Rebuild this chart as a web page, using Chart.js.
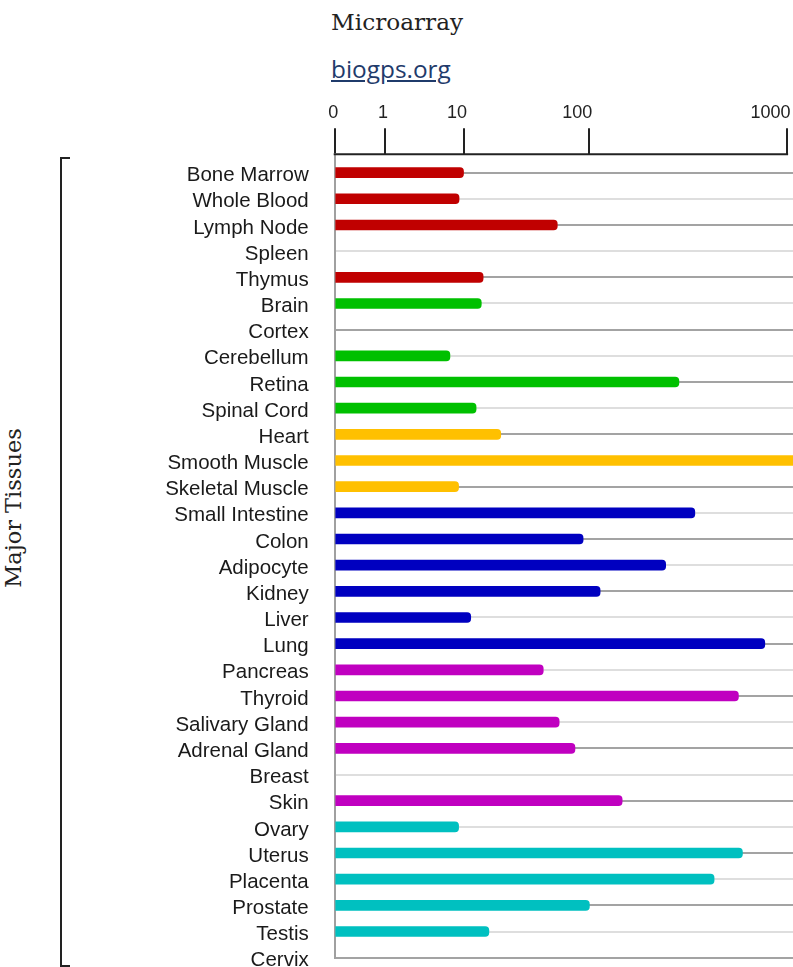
<!DOCTYPE html>
<html>
<head>
<meta charset="utf-8">
<title>Microarray</title>
<script src="https://cdn.jsdelivr.net/npm/chart.js@4.4.1/dist/chart.umd.min.js"></script>
<style>
  html, body { margin: 0; padding: 0; background: #fff; overflow: hidden; }
  #page { position: relative; width: 793px; height: 967px; }
  #title {
    position: absolute; left: 331px; top: 10px;
    font: 23.2px/24px "DejaVu Serif", serif; color: #222;
  }
  #source {
    position: absolute; left: 331px; top: 57px;
    font: 24.4px/24px "Open Sans", sans-serif; color: #1f3b6b;
    text-decoration: underline;
  }
  #sideLabel {
    position: absolute; left: -137px; top: 496px; width: 300px; height: 24px;
    font: 22.5px/24px "DejaVu Serif", serif; color: #222; text-align: center;
    transform: rotate(-90deg); white-space: nowrap;
  }
  #bracket {
    position: absolute; left: 60px; top: 157px; width: 8px; height: 806px;
    border: 2px solid #222; border-right: none;
  }
  #chart { position: absolute; left: 0; top: 0; }
</style>
</head>
<body>
<div id="page">
  <div id="title">Microarray</div>
  <div id="source">biogps.org</div>
  <div id="sideLabel">Major Tissues</div>
  <div id="bracket"></div>
  <canvas id="chart" width="793" height="967"></canvas>
</div>
<script>
  const tissues = [
    "Bone Marrow", "Whole Blood", "Lymph Node", "Spleen", "Thymus",
    "Brain", "Cortex", "Cerebellum", "Retina", "Spinal Cord",
    "Heart", "Smooth Muscle", "Skeletal Muscle",
    "Small Intestine", "Colon", "Adipocyte", "Kidney", "Liver", "Lung",
    "Pancreas", "Thyroid", "Salivary Gland", "Adrenal Gland", "Breast", "Skin",
    "Ovary", "Uterus", "Placenta", "Prostate", "Testis", "Cervix",
  ];
  const expression = [
    10, 9, 61.5, 0, 15.5,
    14.9, 0, 7.2, 325, 13.3,
    22.3, 1400, 8.9,
    390, 92, 278, 118, 11.8, 809,
    48.7, 622, 63.4, 81.3, 0, 160,
    8.9, 648, 482, 101, 17.5, 0,
  ];
  // tissue -> colour group (blood, nervous, muscle, organ, gland, reproductive)
  const tissueGroup = [
    0, 0, 0, 0, 0,
    1, 1, 1, 1, 1,
    2, 2, 2,
    3, 3, 3, 3, 3, 3,
    4, 4, 4, 4, 4, 4,
    5, 5, 5, 5, 5, 5,
  ];
  const groupColors = ["#c00000", "#00c000", "#ffc000", "#0000c0", "#c000c0", "#00c0c0"];
  const xTicks = [0, 1, 10, 100, 1000];

  // Fifth-root value axis: 0 sits where 0.1 would, decades widen to the right
  const ROOT = 0.2;
  const FLOOR = 0.1;
  const squash = (v) => Math.pow(Math.max(v, FLOOR), ROOT);

  class RootScale extends Chart.LinearScale {
    static id = "root";

    configure() {
      super.configure();
      this._lo = squash(this.min);
      this._hi = squash(this.max);
    }

    getPixelForValue(value) {
      return this.getPixelForDecimal((squash(value) - this._lo) / (this._hi - this._lo));
    }

    getValueForPixel(pixel) {
      const t = this._lo + this.getDecimalForPixel(pixel) * (this._hi - this._lo);
      return Math.pow(t, 1 / ROOT);
    }
  }
  Chart.register(RootScale);

  // axis rule along the top, only as far as the last tick
  const topAxisLine = {
    id: "topAxisLine",
    afterDatasetsDraw(chart) {
      const xs = chart.scales.x;
      const { ctx, chartArea } = chart;
      ctx.save();
      ctx.strokeStyle = "#222";
      ctx.lineWidth = 2;
      ctx.beginPath();
      ctx.moveTo(xs.getPixelForValue(xTicks[0]) - 1, chartArea.top);
      ctx.lineTo(xs.getPixelForValue(xTicks[xTicks.length - 1]) + 1, chartArea.top);
      ctx.stroke();
      ctx.restore();
    },
  };

  new Chart(document.getElementById("chart"), {
    type: "bar",
    data: {
      datasets: [
        {
          data: expression.map((v, i) => ({ x: v, y: i })),
          // no bar at all for tissues with nothing measured
          backgroundColor: tissueGroup.map((g, i) => (expression[i] > 0 ? groupColors[g] : "rgba(0,0,0,0)")),
          barThickness: 10,
          borderRadius: 4,
          borderSkipped: "start",
        },
      ],
    },
    options: {
      indexAxis: "y",
      responsive: false,
      animation: false,
      devicePixelRatio: 1,
      layout: { padding: { top: 94.3, right: 0, bottom: 9.3, left: 0 } },
      plugins: {
        legend: { display: false },
        tooltip: { enabled: false },
      },
      scales: {
        x: {
          type: "root",
          position: "top",
          min: 0,
          max: 1056,
          bounds: "data",
          afterBuildTicks: (s) => {
            s.ticks = xTicks.map((v) => ({ value: v }));
          },
          afterFit: (s) => {
            s.height = 60;
            s.paddingLeft = 0;
            s.paddingRight = 0;
          },
          grid: {
            drawOnChartArea: false,
            drawTicks: true,
            tickLength: 26,
            color: "#222",
            lineWidth: 2,
          },
          border: { display: false },
          ticks: {
            autoSkip: false,
            maxRotation: 0,
            align: "end",
            labelOffset: 3.5,
            padding: 4,
            color: "#222",
            font: { family: "Liberation Sans", size: 18 },
            callback: (v) => String(v),
          },
        },
        y: {
          type: "linear",
          reverse: true,
          offset: false,
          min: -0.7,
          max: tissues.length - 1,
          bounds: "data",
          afterBuildTicks: (s) => {
            s.ticks = tissues.map((_, i) => ({ value: i }));
          },
          afterFit: (s) => {
            // labels sit in the left gutter; keep the plot running to the bottom row
            s.width = 334.7;
            s.paddingTop = 0;
            s.paddingBottom = 0;
          },
          grid: {
            offset: false,
            drawTicks: false,
            lineWidth: 2,
            color: (c) => (c.tick && c.tick.value % 2 ? "#dedede" : "#a3a3a3"),
          },
          border: { display: true, color: "#a0a0a0", width: 2 },
          ticks: {
            autoSkip: false,
            padding: 26,
            labelOffset: 3,
            color: "#1a1a1a",
            font: { family: "Liberation Sans", size: 20.5 },
            callback: (v) => tissues[v],
          },
        },
      },
    },
    plugins: [topAxisLine],
  });
</script>
</body>
</html>
